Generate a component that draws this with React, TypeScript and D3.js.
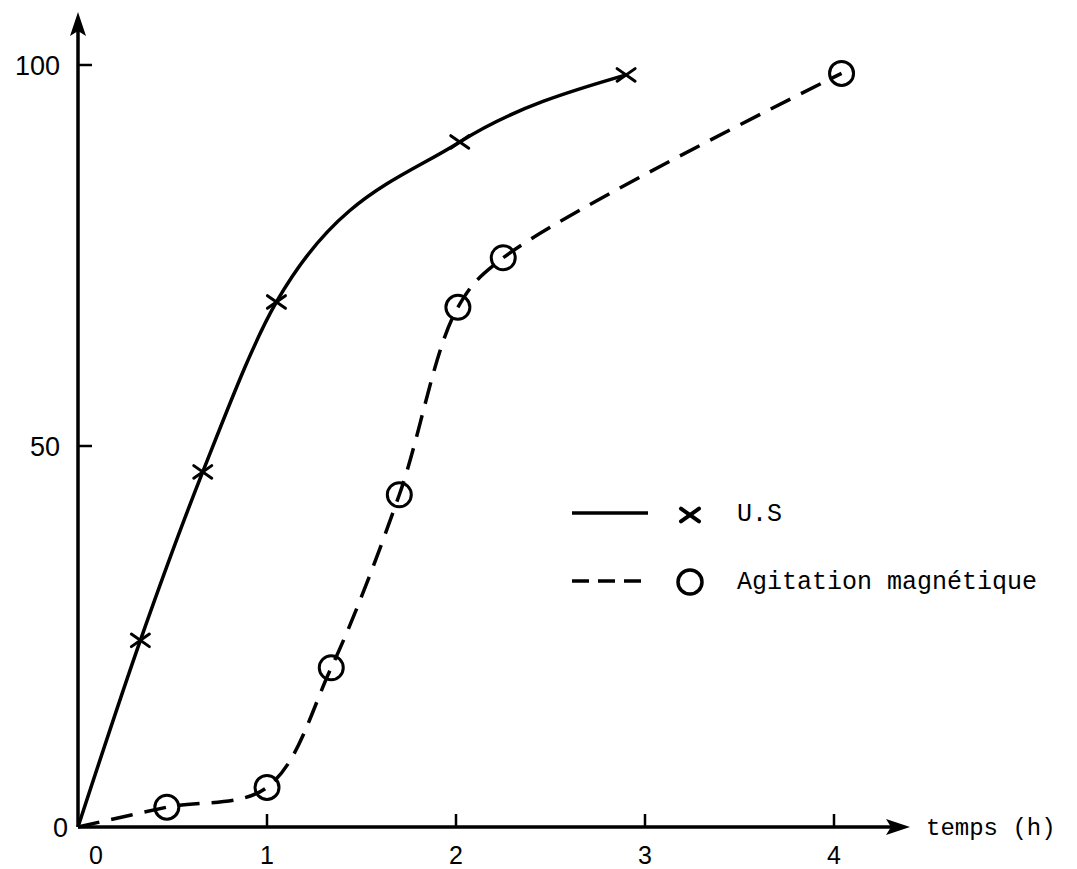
import React, { useEffect, useRef } from 'react';
import * as d3 from 'd3';

// hours / % values (first point = origin, no marker)
const usHours = [0, 0.33, 0.66, 1.05, 2.02, 2.9];
const usPct = [0, 24.5, 46.6, 68.9, 89.9, 98.7];
const magHours = [0, 0.47, 1.0, 1.34, 1.7, 2.01, 2.25, 4.04];
const magPct = [0, 2.6, 5.2, 20.9, 43.6, 68.2, 74.7, 98.9];

const xTicks = [0, 1, 2, 3, 4];
const yTicks = [0, 50, 100];
const xLabel = 'temps (h)';
const legendLabels = ['U.S', 'Agitation magnétique'];

const W = 1077;
const H = 869;
const mono = '"Liberation Mono", "DejaVu Sans Mono", monospace';
const sans = '"Liberation Sans", Arial, sans-serif';

const App: React.FC = () => {
  const svgRef = useRef<SVGSVGElement>(null);

  useEffect(() => {
    if (!svgRef.current) return;
    const svg = d3.select(svgRef.current);
    svg.selectAll('*').remove();

    const x = d3.scaleLinear().domain([0, 4]).range([78, 834]);
    const y = d3.scaleLinear().domain([0, 100]).range([827, 65]);

    const ink = '#000';

    // axes with arrows
    const axisEndX = 900;
    const axisEndY = 30;
    svg.append('line')
      .attr('x1', x(0)).attr('y1', y(0))
      .attr('x2', axisEndX).attr('y2', y(0))
      .attr('stroke', ink).attr('stroke-width', 3.5);
    svg.append('line')
      .attr('x1', x(0)).attr('y1', y(0))
      .attr('x2', x(0)).attr('y2', axisEndY)
      .attr('stroke', ink).attr('stroke-width', 3.5);

    svg.append('path')
      .attr('d', `M${axisEndX + 10},${y(0)} L${axisEndX - 14},${y(0) - 8} L${axisEndX - 9},${y(0)} L${axisEndX - 14},${y(0) + 8} Z`)
      .attr('fill', ink);
    svg.append('path')
      .attr('d', `M${x(0)},${axisEndY - 18} L${x(0) - 8},${axisEndY + 6} L${x(0)},${axisEndY + 1} L${x(0) + 8},${axisEndY + 6} Z`)
      .attr('fill', ink);

    // x ticks (drawn upward) + labels
    const xt = svg.append('g');
    xt.selectAll('line')
      .data(xTicks.filter(d => d > 0))
      .enter().append('line')
      .attr('x1', d => x(d)).attr('x2', d => x(d))
      .attr('y1', y(0)).attr('y2', y(0) - 13)
      .attr('stroke', ink).attr('stroke-width', 2.5);
    xt.selectAll('text')
      .data(xTicks)
      .enter().append('text')
      .attr('x', d => x(d) + (d === 0 ? 18 : 0))
      .attr('y', 864)
      .attr('text-anchor', 'middle')
      .style('font-family', sans)
      .style('font-size', '25px')
      .style('fill', ink)
      .text(d => String(d));

    svg.append('text')
      .attr('x', 926)
      .attr('y', y(0) + 8)
      .style('font-family', mono)
      .style('font-size', '24px')
      .style('fill', ink)
      .text(xLabel);

    // y ticks (drawn inward) + labels
    const yt = svg.append('g');
    yt.selectAll('line')
      .data(yTicks.filter(d => d > 0))
      .enter().append('line')
      .attr('x1', x(0)).attr('x2', x(0) + 14)
      .attr('y1', d => y(d)).attr('y2', d => y(d))
      .attr('stroke', ink).attr('stroke-width', 2.5);
    yt.selectAll('text')
      .data(yTicks)
      .enter().append('text')
      .attr('x', d => (d === 0 ? 68 : 60))
      .attr('y', d => y(d))
      .attr('dy', '0.36em')
      .attr('text-anchor', 'end')
      .style('font-family', sans)
      .style('font-size', '27px')
      .style('fill', ink)
      .text(d => String(d));

    // curves
    const usLine = d3.line<[number, number]>()
      .x(d => x(d[0]))
      .y(d => y(d[1]))
      .curve(d3.curveMonotoneX);
    const magLine = d3.line<[number, number]>()
      .x(d => x(d[0]))
      .y(d => y(d[1]))
      .curve(d3.curveCatmullRom.alpha(0.5));

    const usData: [number, number][] = usHours.map((h, i) => [h, usPct[i]]);
    const magData: [number, number][] = magHours.map((h, i) => [h, magPct[i]]);

    svg.append('path')
      .attr('d', usLine(usData))
      .attr('fill', 'none')
      .attr('stroke', ink)
      .attr('stroke-width', 3.5);

    svg.append('path')
      .attr('d', magLine(magData))
      .attr('fill', 'none')
      .attr('stroke', ink)
      .attr('stroke-width', 3.5)
      .attr('stroke-dasharray', '22 12');

    // markers
    const cross = (g: d3.Selection<SVGGElement, unknown, null, undefined>, cx: number, cy: number, s: number, w: number) => {
      g.append('line')
        .attr('x1', cx - s).attr('y1', cy - s * 0.7)
        .attr('x2', cx + s).attr('y2', cy + s * 0.7)
        .attr('stroke', ink).attr('stroke-width', w).attr('stroke-linecap', 'round');
      g.append('line')
        .attr('x1', cx - s).attr('y1', cy + s * 0.7)
        .attr('x2', cx + s).attr('y2', cy - s * 0.7)
        .attr('stroke', ink).attr('stroke-width', w).attr('stroke-linecap', 'round');
    };

    const marks = svg.append('g');
    usData.slice(1).forEach(d => cross(marks, x(d[0]), y(d[1]), 9, 3));

    marks.selectAll('circle')
      .data(magData.slice(1))
      .enter().append('circle')
      .attr('cx', d => x(d[0]))
      .attr('cy', d => y(d[1]))
      .attr('r', 12)
      .attr('fill', 'none')
      .attr('stroke', ink)
      .attr('stroke-width', 3);

    // legend
    const lg = svg.append('g');
    const rowY = [513, 581];
    lg.append('line')
      .attr('x1', 572).attr('x2', 648)
      .attr('y1', rowY[0]).attr('y2', rowY[0])
      .attr('stroke', ink).attr('stroke-width', 3.5);
    cross(lg, 690, rowY[0] + 2, 9, 4);
    lg.append('line')
      .attr('x1', 572).attr('x2', 644)
      .attr('y1', rowY[1]).attr('y2', rowY[1])
      .attr('stroke', ink).attr('stroke-width', 3.5)
      .attr('stroke-dasharray', '17 9');
    lg.append('circle')
      .attr('cx', 690).attr('cy', rowY[1] + 1)
      .attr('r', 12)
      .attr('fill', 'none')
      .attr('stroke', ink)
      .attr('stroke-width', 3.5);

    lg.selectAll('text')
      .data(legendLabels)
      .enter().append('text')
      .attr('x', 737)
      .attr('y', (_, i) => rowY[i] + 8)
      .style('font-family', mono)
      .style('font-size', '25px')
      .style('fill', ink)
      .text(d => d);
  }, []);

  return (
    <div style={{ position: 'absolute', left: 0, top: 0 }}>
      <svg ref={svgRef} width={W} height={H} style={{ background: '#fff', display: 'block' }} />
    </div>
  );
};

export default App;
